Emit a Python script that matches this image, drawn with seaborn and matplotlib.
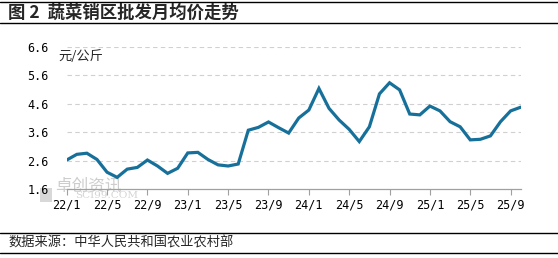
import matplotlib
matplotlib.use("Agg")
import matplotlib.pyplot as plt
import seaborn as sns
import pandas as pd
import numpy as np
from matplotlib.lines import Line2D

sns.set_theme(style="white")
plt.rcParams['font.family'] = ['Noto Sans CJK SC', 'DejaVu Sans']

months = [f"{y}/{m}" for y in (22, 23, 24, 25) for m in range(1, 13)][:46]
prices = [2.62, 2.82, 2.86, 2.64, 2.19, 2.01, 2.30, 2.36, 2.62, 2.41, 2.15, 2.33,
          2.87, 2.89, 2.64, 2.45, 2.41, 2.48, 3.67, 3.77, 3.96, 3.76, 3.57, 4.10,
          4.38, 5.14, 4.44, 4.03, 3.70, 3.27, 3.79, 4.95, 5.34, 5.09, 4.24, 4.21,
          4.52, 4.35, 3.97, 3.79, 3.33, 3.35, 3.47, 3.97, 4.35, 4.48]
tick_labels = ["22/1", "22/5", "22/9", "23/1", "23/5", "23/9",
               "24/1", "24/5", "24/9", "25/1", "25/5", "25/9"]
y_ticks = [1.6, 2.6, 3.6, 4.6, 5.6, 6.6]

title = "图 2  蔬菜销区批发月均价走势"
unit = "元/公斤"
source = "数据来源：中华人民共和国农业农村部"

df = pd.DataFrame({"idx": np.arange(len(prices)), "price": prices, "month": months})

W, H = 558, 258
fig = plt.figure(figsize=(W / 100, H / 100), dpi=100)
fig.patch.set_facecolor("white")

# watermark (behind everything)
fig.patches.append(plt.Rectangle((40 / W, 1 - 202 / H), 12 / W, 14 / H, transform=fig.transFigure,
                                 facecolor="#D8D8D8", edgecolor="none", zorder=0))
fig.text(55 / W, 1 - 186 / H, "卓创资讯", fontsize=12, color="#CDCDCD", va="center", ha="left", zorder=0)
fig.text(75 / W, 1 - 196 / H, "SCI99.COM", fontsize=7.5, color="#D4D4D4", va="center", ha="left",
         family=["DejaVu Serif"], zorder=0)

ax = fig.add_axes([66.7 / W, (H - 189) / H, (520.7 - 66.7) / W, (189 - 47) / H])
ax.set_facecolor("none")
ax.set_zorder(2)
sns.lineplot(data=df, x="idx", y="price", ax=ax, color="#17709A", linewidth=2.3,
             solid_joinstyle="miter", zorder=3)

ax.set_xlim(0, len(prices) - 1)
ax.set_ylim(1.6, 6.6)
ax.set_xlabel("")
ax.set_ylabel("")
tick_pos = [months.index(t) for t in tick_labels]
ax.set_xticks(tick_pos)
ax.set_xticklabels(tick_labels)
ax.set_yticks(y_ticks)
ax.set_yticklabels([f"{v:.1f}" for v in y_ticks])
ax.tick_params(axis="x", length=4, width=0.8, color="#A0A0A0", pad=3, labelsize=8.5,
               labelcolor="#000000", direction="out", bottom=True)
ax.tick_params(axis="y", length=0, pad=13, labelsize=8.5, labelcolor="#000000")
for lab in ax.get_xticklabels() + ax.get_yticklabels():
    lab.set_family(["DejaVu Sans Mono"])

for v in y_ticks[1:]:
    ax.axhline(v, color="#D0D0D0", linewidth=0.8, linestyle=(0, (4, 3)), zorder=1)
for s in ("top", "right", "left"):
    ax.spines[s].set_visible(False)
ax.spines["bottom"].set_color("#A0A0A0")
ax.spines["bottom"].set_linewidth(0.9)
ax.grid(False)

fig.text(58 / W, 1 - 57 / H, unit, fontsize=9.5, va="center", ha="left")

# title band and footer
for y in (1.5, 22.7, 232.5, 252.5):
    fig.add_artist(Line2D([0, 1], [1 - y / H, 1 - y / H], transform=fig.transFigure,
                          color="black", linewidth=1.0))
fig.text(8 / W, 1 - 12.5 / H, title, fontsize=12.5, fontweight="bold", va="center", ha="left")
fig.text(8 / W, 1 - 242.5 / H, source, fontsize=9.5, va="center", ha="left")

fig.savefig("out.png", dpi=100)
